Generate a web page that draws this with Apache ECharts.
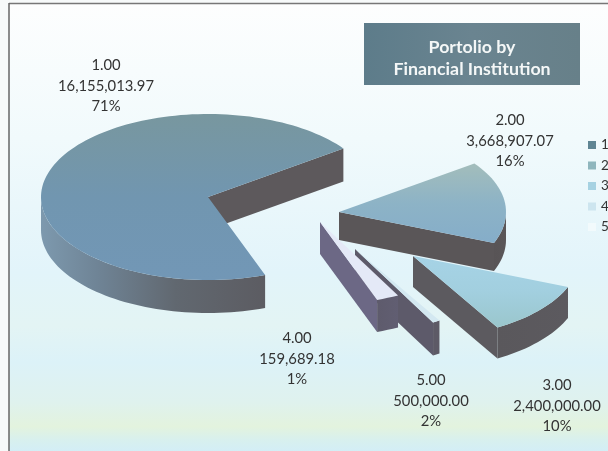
<!DOCTYPE html>
<html><head><meta charset="utf-8">
<style>html,body{margin:0;padding:0;background:#f7fafa}#c{width:608px;height:451px;filter:blur(0.45px)}</style>
<script src="https://cdn.jsdelivr.net/npm/echarts@6/dist/echarts.min.js"></script>
</head><body><div id="c"></div>
<script>
// ---- data ----
const legendNames = ['1', '2', '3', '4', '5'];
const categories = ['1.00', '2.00', '3.00', '4.00', '5.00'];
const values = [16155013.97, 3668907.07, 2400000.00, 159689.18, 500000.00];
const titleText = 'Portolio by\nFinancial Institution';

// ---- layout / style ----
const RX = 167, RY = 83, START = 70;
const apex = [[208,197],[339,212],[413,256],[355,249],[320,222]];
const depth = [33,28,31,33,32];
const drawZ = [2,3,7,4,5];
const labelPos = [[106,86],[510,141],[557,406],[297,359],[431,401]];
const legendColors = ['#5f8593','#8fb6bd','#a6d2e2','#cde5ef','#f2fafc'];
const topFill = [
  ['#78979f','#7196b0','#7297b6'],
  ['#a3bdbb','#8db3c6','#85adc9'],
  ['#a6d3e6','#a2cfdf','#9ac6cc'],
  ['#d3e8f1','#d3e8f1','#d3e8f1'],
  ['#e4e9f7','#e4e9f7','#e4e9f7']
];
const faceFill = ['#5d595c','#5a5658','#5c5a5f','#5d5a6a','#6c6885'];
const arcFill = [
  [[0,'#7d99ae'],[0.25,'#6f8496'],[0.6,'#616870'],[1,'#5c5c62']],
  [[0,'#585456'],[1,'#5a5658']],
  [[0,'#5a585c'],[1,'#5c5a5f']],
  [[0,'#5d5a66'],[1,'#5d5a66']],
  [[0,'#5e5b6c'],[1,'#615e72']]
];
const FONT = '14.8px Lato, "Open Sans", sans-serif';

const total = values.reduce((a,b)=>a+b,0);
const angles = [];
values.reduce((acc,v)=>{const s=acc,e=acc+v/total*360;angles.push([s,e]);return e;},START);
const rad = d=>d*Math.PI/180;
const fmt = v=>v.toLocaleString('en-US',{minimumFractionDigits:2,maximumFractionDigits:2});

function pt(c,a,dz){return [c[0]+RX*Math.cos(rad(a)),c[1]+RY*Math.sin(rad(a))+(dz||0)];}
function arc(c,a0,a1,dz){const n=Math.max(2,Math.ceil(Math.abs(a1-a0)/2));const p=[];
  for(let i=0;i<=n;i++)p.push(pt(c,a0+(a1-a0)*i/n,dz));return p;}
function grad(stops,horizontal){return {type:'linear',x:0,y:0,x2:horizontal?1:0,y2:horizontal?0:1,
  colorStops:stops.map(s=>({offset:s[0],color:s[1]}))};}

function makeRender(i){
  return function(params,api){
    const v = api.value(0);
    const share = v/total;
    const [s,e] = angles[i];
    const c = apex[i], d = depth[i];
    const children = [];
    [[s,-90],[e,90]].forEach(([a,off])=>{
      if(Math.sin(rad(a+off))>0){
        const p=pt(c,a);
        children.push({type:'polygon',shape:{points:[c,p,[p[0],p[1]+d],[c[0],c[1]+d]]},style:{fill:faceFill[i]}});
      }
    });
    [0,1].forEach(k=>{
      const lo=Math.max(s,360*k), hi=Math.min(e,360*k+180);
      if(hi>lo){
        const top=arc(c,lo,hi,0), bot=arc(c,hi,lo,d);
        children.push({type:'polygon',shape:{points:top.concat(bot)},style:{fill:grad(arcFill[i],true)}});
      }
    });
    const topPts=[c].concat(arc(c,s,e,0));
    const st=topFill[i];
    children.push({type:'polygon',shape:{points:topPts},
      style:{fill:grad([[0,st[0]],[0.5,st[1]],[1,st[2]]],false)}});
    children.push({type:'text',z2:50,style:{x:labelPos[i][0],y:labelPos[i][1],
      text:categories[i]+'\n'+fmt(v)+'\n'+Math.round(share*100)+'%',
      font:FONT,fill:'#333333',align:'center',verticalAlign:'middle',lineHeight:20.7}});
    return {type:'group',children};
  };
}

const series = values.map((v,i)=>({
  type:'custom',name:legendNames[i],coordinateSystem:'none',z:drawZ[i],silent:true,
  animation:false,itemStyle:{color:legendColors[i]},
  renderItem:makeRender(i),data:[[v]]
}));

const chart = echarts.init(document.getElementById('c'),null,{width:608,height:451});
chart.setOption({
  animation:false,
  backgroundColor:'#f7fafa',
  title:{text:titleText,left:467,top:31,textAlign:'center',z:10,
    textStyle:{color:'#f4f7f7',fontFamily:'Lato, "Open Sans", sans-serif',fontSize:17.8,fontWeight:'bold',lineHeight:22}},
  legend:{orient:'vertical',left:583,top:133,padding:[5,0,5,5],itemWidth:8,itemHeight:8,itemGap:6.5,selectedMode:false,
    data:legendNames,icon:'rect',
    textStyle:{color:'#333',fontFamily:'Lato, sans-serif',fontSize:13.5,lineHeight:14}},
  graphic:[
    {type:'rect',z:-10,shape:{x:9,y:4,width:599,height:447},style:{fill:{type:'linear',x:0,y:0,x2:0,y2:1,colorStops:[
      {offset:0,color:'#fdfefe'},{offset:0.3,color:'#f1fafc'},{offset:0.6,color:'#e2f4fa'},{offset:0.72,color:'#e3f4f4'},
      {offset:0.8,color:'#dcf2f8'},{offset:0.89,color:'#dff2ee'},{offset:0.945,color:'#e3f3de'},{offset:0.975,color:'#d8f0ee'},{offset:1,color:'#d3eef6'}]}}},
    {type:'line',z:-5,shape:{x1:9,y1:3.5,x2:608,y2:3.5},style:{stroke:'#777',lineWidth:1.5}},
    {type:'line',z:-5,shape:{x1:9,y1:3,x2:9,y2:451},style:{stroke:'#666',lineWidth:1.5}},
    {type:'rect',z:-4,shape:{x:364,y:23,width:216,height:62},style:{fill:{type:'linear',x:0,y:0,x2:1,y2:0,colorStops:[
      {offset:0,color:'#5d7c8a'},{offset:0.5,color:'#6a8490'},{offset:1,color:'#678089'}]}}}
  ],
  series
});
</script></body></html>
